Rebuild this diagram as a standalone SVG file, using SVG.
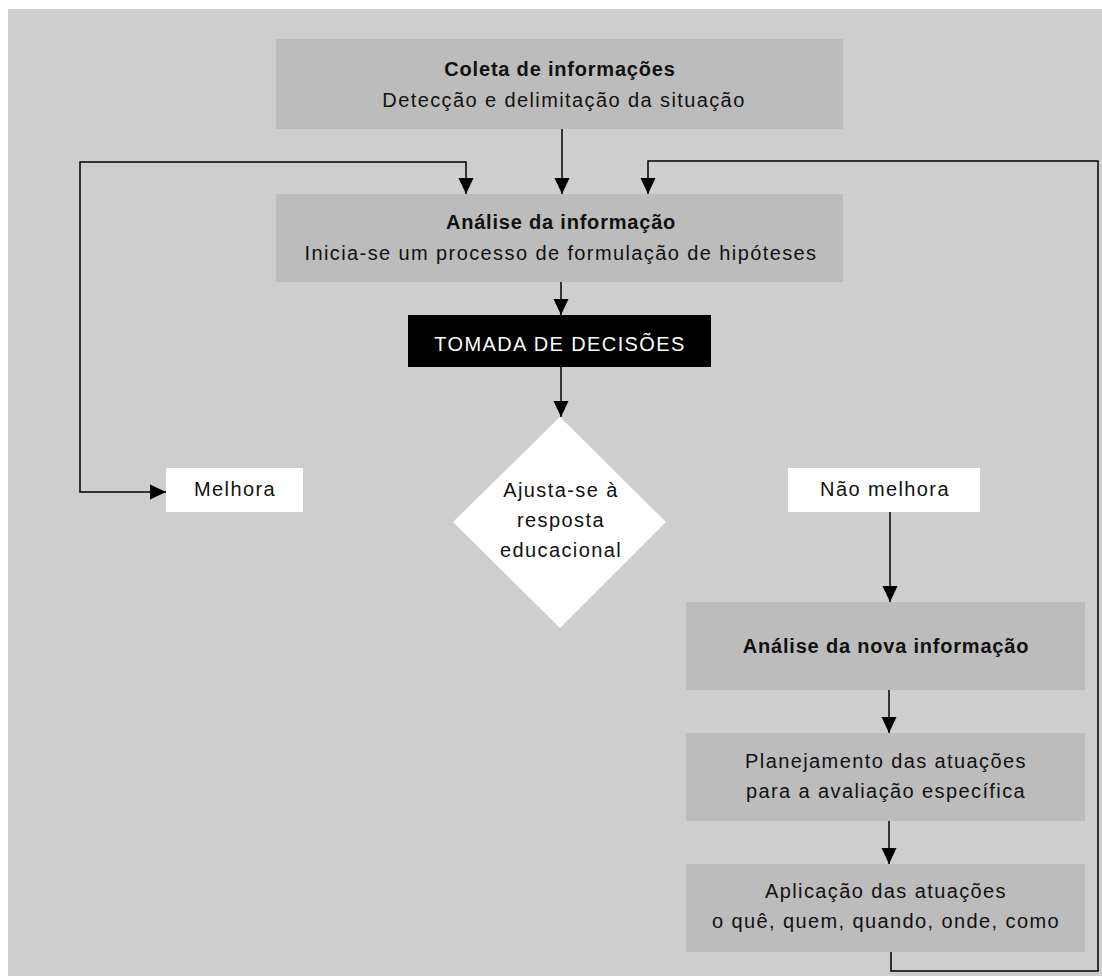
<svg xmlns="http://www.w3.org/2000/svg" width="1102" height="976" viewBox="0 0 1102 976">
<style>
.bg{fill:#cecece}
.box{fill:#bcbcbc}
.wbox{fill:#ffffff}
.bbox{fill:#000000}
text{font-family:"Liberation Sans",Arial,sans-serif;font-size:20px;fill:#111;text-anchor:middle}
.b{font-weight:bold;letter-spacing:0.8px}
.r{letter-spacing:1.4px}
.w{fill:#ffffff}
.ln{fill:none;stroke:#000;stroke-width:1.5}
</style>
<defs>
<marker id="ah" markerUnits="userSpaceOnUse" markerWidth="17" markerHeight="17" viewBox="0 0 17 17" refX="16" refY="8.5" orient="auto">
<path d="M0,1 L16,8.5 L0,16 Z" fill="#000"/>
</marker>
<marker id="ahs" markerUnits="userSpaceOnUse" markerWidth="17" markerHeight="17" viewBox="0 0 17 17" refX="16" refY="8.5" orient="auto-start-reverse">
<path d="M0,1 L16,8.5 L0,16 Z" fill="#000"/>
</marker>
</defs>
<rect class="bg" x="8" y="9" width="1094" height="967"/>

<g id="connectors">
<path class="ln" d="M562,129 V194" marker-end="url(#ah)"/>
<path class="ln" d="M561,282 V315" marker-end="url(#ah)"/>
<path class="ln" d="M561,367 V417" marker-end="url(#ah)"/>
<path class="ln" d="M466,194 V162 H80 V492 H166" marker-start="url(#ahs)" marker-end="url(#ah)"/>
<path class="ln" d="M891,952 V971 H1098 V161 H648 V194" marker-end="url(#ah)"/>
<path class="ln" d="M890,512 V602" marker-end="url(#ah)"/>
<path class="ln" d="M889,690 V733" marker-end="url(#ah)"/>
<path class="ln" d="M889,821 V864" marker-end="url(#ah)"/>
</g>

<g id="coleta">
<rect class="box" x="276" y="39" width="567" height="90"/>
<text class="b" x="560" y="76">Coleta de informações</text>
<text class="r" x="564" y="107">Detecção e delimitação da situação</text>
</g>

<g id="analise">
<rect class="box" x="276" y="194" width="567" height="88"/>
<text class="b" x="561" y="229">Análise da informação</text>
<text class="r" x="561" y="260">Inicia-se um processo de formulação de hipóteses</text>
</g>

<g id="tomada">
<rect class="bbox" x="408" y="315" width="303" height="52"/>
<text class="r w" x="560" y="351">TOMADA DE DECISÕES</text>
</g>

<g id="ajusta">
<polygon fill="#ffffff" points="560,417 666,522 560,628 453,522"/>
<text class="r" x="561" y="497">Ajusta-se à</text>
<text class="r" x="561" y="527">resposta</text>
<text class="r" x="561" y="557">educacional</text>
</g>

<g id="melhora">
<rect class="wbox" x="166" y="468" width="137" height="44"/>
<text class="r" x="235" y="496">Melhora</text>
</g>

<g id="naomelhora">
<rect class="wbox" x="788" y="468" width="192" height="44"/>
<text class="r" x="885" y="496">Não melhora</text>
</g>

<g id="analisenova">
<rect class="box" x="686" y="602" width="399" height="88"/>
<text class="b" x="886" y="653">Análise da nova informação</text>
</g>

<g id="planejamento">
<rect class="box" x="686" y="733" width="399" height="88"/>
<text class="r" x="886" y="768">Planejamento das atuações</text>
<text class="r" x="886" y="798">para a avaliação específica</text>
</g>

<g id="aplicacao">
<rect class="box" x="686" y="864" width="399" height="88"/>
<text class="r" x="886" y="898">Aplicação das atuações</text>
<text class="r" x="886" y="928">o quê, quem, quando, onde, como</text>
</g>
</svg>
